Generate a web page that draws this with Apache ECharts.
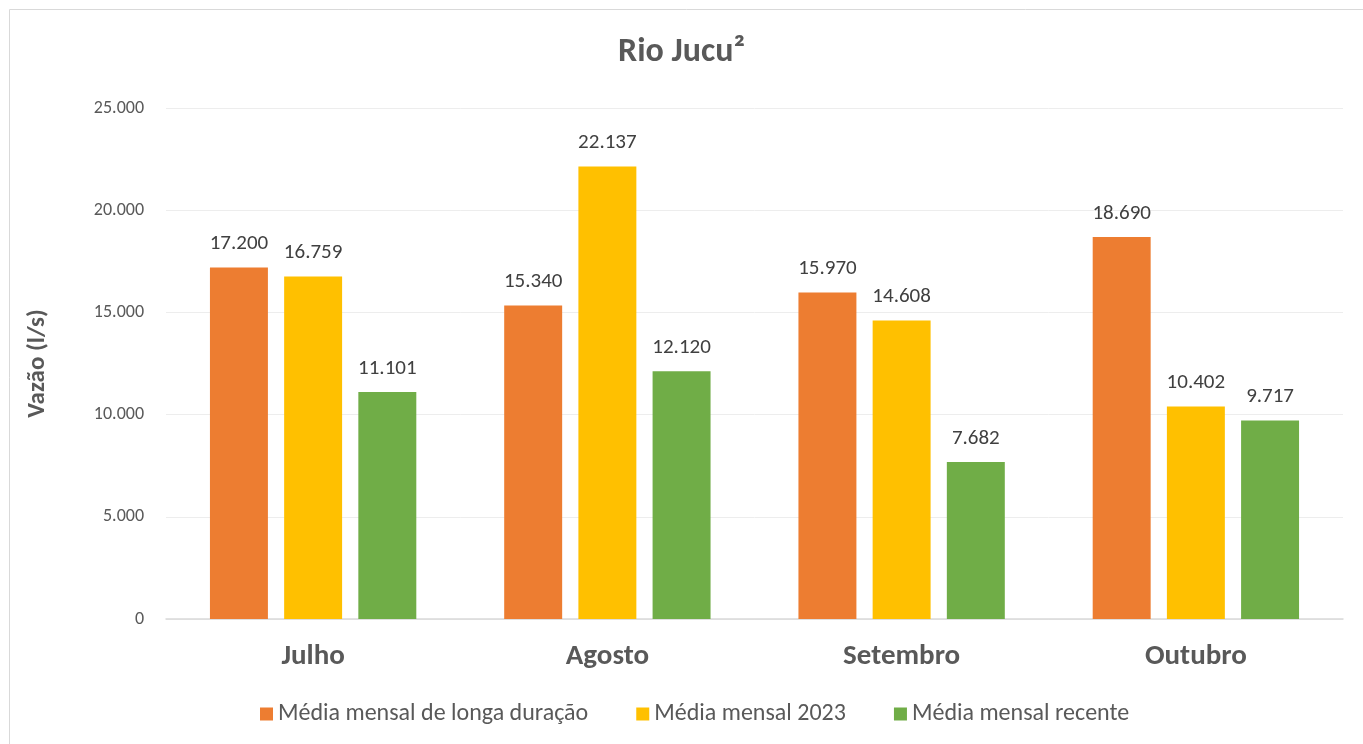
<!DOCTYPE html>
<html><head><meta charset="utf-8">
<script src="https://cdn.jsdelivr.net/npm/echarts@6/dist/echarts.min.js"></script>
<style>html,body{margin:0;padding:0;background:#fff}#c{width:1363px;height:744px}</style>
</head><body><div id="c"></div>
<script>
const categories = ['Julho', 'Agosto', 'Setembro', 'Outubro'];
const seriesNames = ['Média mensal de longa duração', 'Média mensal 2023', 'Média mensal recente'];
const longa = [17200, 15340, 15970, 18690];
const ano2023 = [16759, 22137, 14608, 10402];
const recente = [11101, 12120, 7682, 9717];
const colors = ['#ED7D31', '#FFC000', '#70AD47'];
const FONT = 'Carlito, Lato, "Liberation Sans", sans-serif';
const fmt = v => Math.round(v).toString().replace(/\B(?=(\d{3})+(?!\d))/g, '.');
const chart = echarts.init(document.getElementById('c'));
const mk = (name, data, i) => ({
  name, type: 'bar', data, barWidth: '19.7%', barGap: '28%',
  itemStyle: { color: colors[i] },
  label: { show: true, position: 'top', distance: 13, color: '#404040', fontSize: 21, fontFamily: FONT, formatter: p => fmt(p.value) }
});
chart.setOption({
  animation: false,
  textStyle: { fontFamily: FONT },
  title: { text: 'Rio Jucu²', left: 'center', top: 30, textStyle: { fontSize: 34, fontWeight: 'bold', color: '#595959', fontFamily: FONT } },
  graphic: [{ type: 'rect', shape: { x: 9.5, y: 9.5, width: 1400, height: 800 }, style: { fill: 'none', stroke: '#D9D9D9', lineWidth: 1 }, silent: true }],
  legend: { bottom: 13, left: 255, itemWidth: 13, itemHeight: 13, itemGap: 48, icon: 'rect',
    textStyle: { fontSize: 24, color: '#595959', fontFamily: FONT } },
  grid: { left: 166, right: 20, top: 108, bottom: 125 },
  xAxis: { type: 'category', data: categories,
    axisLine: { lineStyle: { color: '#D9D9D9', width: 1.5 } }, axisTick: { show: false },
    axisLabel: { fontSize: 29, fontWeight: 'bold', color: '#595959', margin: 23, fontFamily: FONT } },
  yAxis: { type: 'value', min: 0, max: 25000, interval: 5000,
    name: 'Vazão (l/s)', nameLocation: 'middle', nameGap: 116, nameRotate: 90,
    nameTextStyle: { fontSize: 25, fontWeight: 'bold', color: '#595959', fontFamily: FONT },
    axisLine: { show: false }, axisTick: { show: false },
    axisLabel: { fontSize: 18, color: '#595959', margin: 22, formatter: fmt, fontFamily: FONT },
    splitLine: { lineStyle: { color: '#EDEDED', width: 1 } } },
  series: [mk(seriesNames[0], longa, 0), mk(seriesNames[1], ano2023, 1), mk(seriesNames[2], recente, 2)]
});
</script></body></html>
